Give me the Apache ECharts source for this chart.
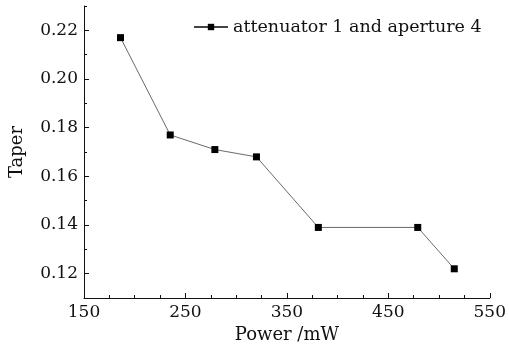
<!DOCTYPE html>
<html>
<head>
<meta charset="utf-8">
<script src="https://cdn.jsdelivr.net/npm/echarts@6/dist/echarts.min.js"></script>
<style>
  html, body { margin: 0; padding: 0; background: #fff; }
  #container { width: 509px; height: 349px; }
</style>
</head>
<body>
<div id="container"></div>
<script>
var seriesName = 'attenuator 1 and aperture 4';
var powerMw = [186, 235, 279, 320, 381, 479, 515];
var taper = [0.217, 0.177, 0.171, 0.168, 0.139, 0.139, 0.122];
var xTicks = [150, 250, 350, 450, 550];
var yTicks = [0.12, 0.14, 0.16, 0.18, 0.20, 0.22];

var font = 'DejaVu Serif';
var ink = '#111';

var points = powerMw.map(function (p, i) { return [p, taper[i]]; });

var dom = document.getElementById('container');
var myChart = echarts.init(dom);

var option = {
    backgroundColor: '#fff',
    animation: false,
    grid: { left: 83, right: 18, top: 6, bottom: 51 },
    legend: {
        left: 188,
        top: 13,
        itemWidth: 34,
        itemHeight: 8,
        itemGap: 4,
        textStyle: { fontFamily: font, fontSize: 17.5, color: ink },
        data: [seriesName]
    },
    xAxis: [{
        type: 'value',
        min: 150, max: 550, interval: 25,
        name: 'Power /mW',
        nameLocation: 'middle',
        nameGap: 25,
        nameTextStyle: { fontFamily: font, fontSize: 18, color: ink },
        axisLine: { lineStyle: { color: ink, width: 1 } },
        axisTick: { inside: true, length: 5, customValues: xTicks, lineStyle: { color: ink } },
        axisLabel: { customValues: xTicks, fontFamily: font, fontSize: 17, color: ink, margin: 6 },
        splitLine: { show: false }
    }, {
        type: 'value',
        position: 'bottom',
        min: 150, max: 550, interval: 25,
        axisLine: { show: false },
        axisTick: { inside: true, length: 3, lineStyle: { color: ink } },
        axisLabel: { show: false },
        splitLine: { show: false }
    }],
    yAxis: [{
        type: 'value',
        min: 0.11, max: 0.23, interval: 0.01,
        name: 'Taper',
        nameLocation: 'middle',
        nameGap: 58,
        nameTextStyle: { fontFamily: font, fontSize: 18, color: ink },
        axisLine: { show: true, lineStyle: { color: ink, width: 1 } },
        axisTick: { show: true, inside: true, length: 5, customValues: yTicks, lineStyle: { color: ink } },
        axisLabel: {
            customValues: yTicks,
            fontFamily: font, fontSize: 17, color: ink, margin: 6,
            formatter: function (v) { return v.toFixed(2); }
        },
        splitLine: { show: false }
    }, {
        type: 'value',
        position: 'left',
        min: 0.11, max: 0.23, interval: 0.01,
        axisLine: { show: false },
        axisTick: { show: true, inside: true, length: 3, lineStyle: { color: ink } },
        axisLabel: { show: false },
        splitLine: { show: false }
    }],
    series: [{
        name: seriesName,
        type: 'line',
        data: points,
        symbol: 'rect',
        symbolSize: 7,
        itemStyle: { color: '#000' },
        lineStyle: { color: '#444', width: 0.8 }
    }]
};

myChart.setOption(option, true);
</script>
</body>
</html>
